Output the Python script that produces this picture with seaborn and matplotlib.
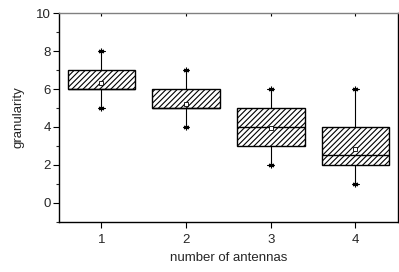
import matplotlib
matplotlib.use("Agg")
import matplotlib.pyplot as plt
from matplotlib.ticker import MultipleLocator
import seaborn as sns

# box statistics
antennas = [1, 2, 3, 4]
whisker_low = [5, 4, 2, 1]
q1 = [6, 5, 3, 2]
medians = [6, 5, 4, 2.5]
q3 = [7, 6, 5, 4]
whisker_high = [8, 7, 6, 6]
means = [6.3, 5.2, 3.95, 2.85]

sns.set_style("ticks")
plt.rcParams["font.family"] = ["Liberation Sans", "DejaVu Sans"]
plt.rcParams["hatch.linewidth"] = 0.8

fig = plt.figure(figsize=(3.99, 2.72), dpi=100)
ax = fig.add_axes([0.148, 0.184, 0.849, 0.768])

stats = []
for i, n in enumerate(antennas):
    stats.append(
        dict(
            label=str(n),
            whislo=whisker_low[i],
            q1=q1[i],
            med=medians[i],
            q3=q3[i],
            whishi=whisker_high[i],
            mean=means[i],
            fliers=[],
        )
    )

bp = ax.bxp(
    stats,
    positions=antennas,
    widths=0.8,
    patch_artist=True,
    showmeans=True,
    capwidths=0.08,
    boxprops=dict(facecolor="white", edgecolor="black", linewidth=1.0, hatch="//////"),
    medianprops=dict(color="black", linewidth=1.0),
    whiskerprops=dict(color="black", linewidth=0.8),
    capprops=dict(color="black", linewidth=0.8),
    meanprops=dict(marker="s", markersize=2.8, markerfacecolor="white",
                   markeredgecolor="black", markeredgewidth=0.6),
)

# asterisk markers at whisker ends
ax.plot(antennas, whisker_low, linestyle="none", marker=(6, 2, 0),
        markersize=4, color="black", markeredgewidth=0.8)
ax.plot(antennas, whisker_high, linestyle="none", marker=(6, 2, 0),
        markersize=4, color="black", markeredgewidth=0.8)

ax.set_xlim(0.5, 4.5)
ax.set_ylim(-1, 10)
ax.set_xticks(antennas)
ax.set_xticklabels([str(n) for n in antennas])
ax.yaxis.set_major_locator(MultipleLocator(2))
ax.yaxis.set_minor_locator(MultipleLocator(1))

ax.tick_params(axis="both", which="major", labelsize=9.5, length=4, width=0.8,
               color="black", pad=2)
ax.tick_params(axis="y", which="minor", length=2.5, width=0.8)
ax.tick_params(axis="x", which="minor", bottom=False, top=False)
ax.tick_params(axis="x", which="major", pad=5)
# small inward ticks along the top edge
ax.tick_params(axis="x", which="major", top=True, labeltop=False)
for t in ax.xaxis.get_major_ticks():
    t.tick2line.set_marker(3)
    t.tick2line.set_markersize(2.5)
    t.tick2line.set_color("gray")

for side in ["left", "bottom", "right"]:
    ax.spines[side].set_color("black")
    ax.spines[side].set_linewidth(1.0)
ax.spines["top"].set_color("gray")
ax.spines["top"].set_linewidth(1.0)

ax.set_xlabel("number of antennas", fontsize=9.5, labelpad=4)
ax.set_ylabel("granularity", fontsize=9.5, labelpad=8)

fig.savefig("out.png", dpi=100)
